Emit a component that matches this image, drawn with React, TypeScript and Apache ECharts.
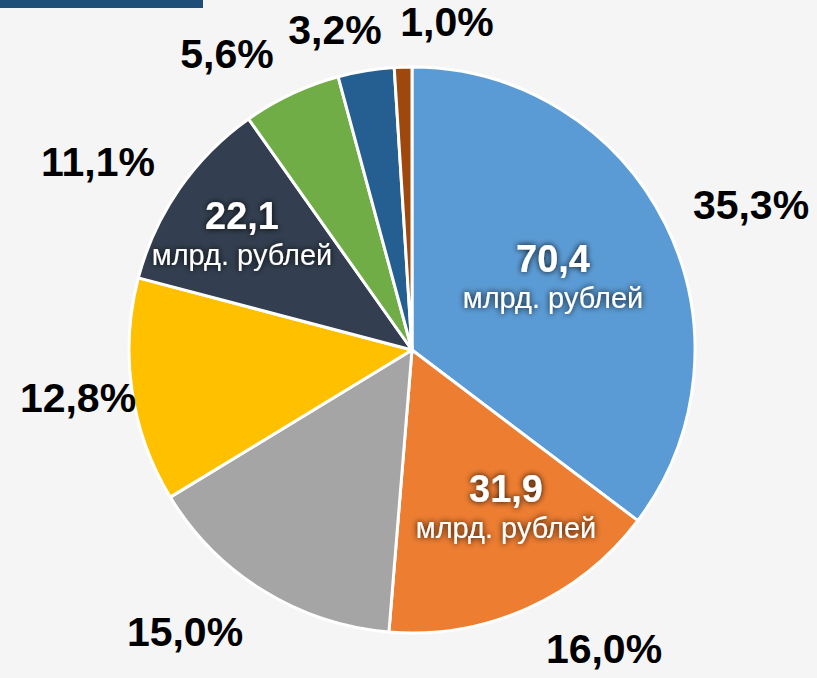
import React, { useEffect, useRef } from "react";
import * as echarts from "echarts";

const categories = ["A", "B", "C", "D", "E", "F", "G", "H"];
const percentValues = [35.3, 16.0, 15.0, 12.8, 11.1, 5.6, 3.2, 1.0];
const amountLabels: (number | null)[] = [70.4, 31.9, null, null, 22.1, null, null, null];
const sliceColors = ["#5b9bd5", "#ed7d31", "#a5a5a5", "#ffc000", "#333f50", "#70ad47", "#255e91", "#9e480e"];

const outerLabelPos = [
  [751, 205], [604, 649], [185, 632], [78, 398], [98, 162], [227, 54], [335, 30], [447, 22],
];
const innerLabelPos: Record<number, number[]> = { 0: [553, 278], 1: [506, 508], 4: [242, 235] };

const fmt = (v: number) => v.toFixed(1).replace(".", ",");

export default function App() {
  const ref = useRef<HTMLDivElement>(null);
  useEffect(() => {
    if (!ref.current) return;
    const chart = echarts.init(ref.current, undefined, { renderer: "svg" });
    const center = [412, 350];
    const radius = 283;
    const shadow = { textShadowColor: "rgba(0,0,0,0.95)", textShadowBlur: 6 };
    chart.setOption({
      animation: false,
      backgroundColor: "#f5f5f5",
      graphic: [
        { type: "rect", shape: { x: 0, y: 0, width: 203, height: 8 }, style: { fill: "#1f4e79" } },
      ],
      series: [
        {
          type: "pie",
          center,
          radius,
          startAngle: 90,
          clockwise: true,
          data: categories.map((c, i) => ({
            name: c,
            value: percentValues[i],
            itemStyle: { color: sliceColors[i] },
          })),
          itemStyle: { borderColor: "#ffffff", borderWidth: 3 },
          label: {
            show: true,
            position: "outside",
            overflow: "none",
            formatter: (p: any) => fmt(percentValues[p.dataIndex]) + "%",
            fontFamily: "Liberation Sans, Arial, sans-serif",
            fontWeight: "bold",
            fontSize: 41,
            lineHeight: 36,
            color: "#000000",
          },
          labelLine: { show: false },
          labelLayout: (p: any) => ({
            x: outerLabelPos[p.dataIndex][0],
            y: outerLabelPos[p.dataIndex][1],
            align: "center",
            verticalAlign: "middle",
          }),
          silent: true,
        },
        {
          type: "pie",
          center,
          radius,
          startAngle: 90,
          clockwise: true,
          data: categories.map((c, i) => ({
            name: c,
            value: percentValues[i],
            itemStyle: { color: "rgba(0,0,0,0)" },
            label: { show: amountLabels[i] !== null },
          })),
          itemStyle: { borderWidth: 0 },
          label: {
            position: "inside",
            overflow: "none",
            formatter: (p: any) => {
              const a = amountLabels[p.dataIndex];
              return a === null ? "" : "{big|" + fmt(a) + "}\n{small|млрд. рублей}";
            },
            rich: {
              big: {
                fontFamily: "Liberation Sans, Arial, sans-serif",
                fontWeight: "bold",
                fontSize: 38,
                color: "#ffffff",
                lineHeight: 40,
                ...shadow,
              },
              small: {
                fontFamily: "Liberation Sans, Arial, sans-serif",
                fontSize: 29,
                color: "#ffffff",
                lineHeight: 38,
                ...shadow,
              },
            },
          },
          labelLine: { show: false },
          labelLayout: (p: any) => {
            const pos = innerLabelPos[p.dataIndex];
            if (!pos) return {};
            return { x: pos[0], y: pos[1], align: "center", verticalAlign: "middle" };
          },
          silent: true,
        },
      ],
    });
    return () => chart.dispose();
  }, []);
  return (
    <div
      ref={ref}
      style={{ position: "fixed", left: 0, top: 0, width: 817, height: 678 }}
    />
  );
}
